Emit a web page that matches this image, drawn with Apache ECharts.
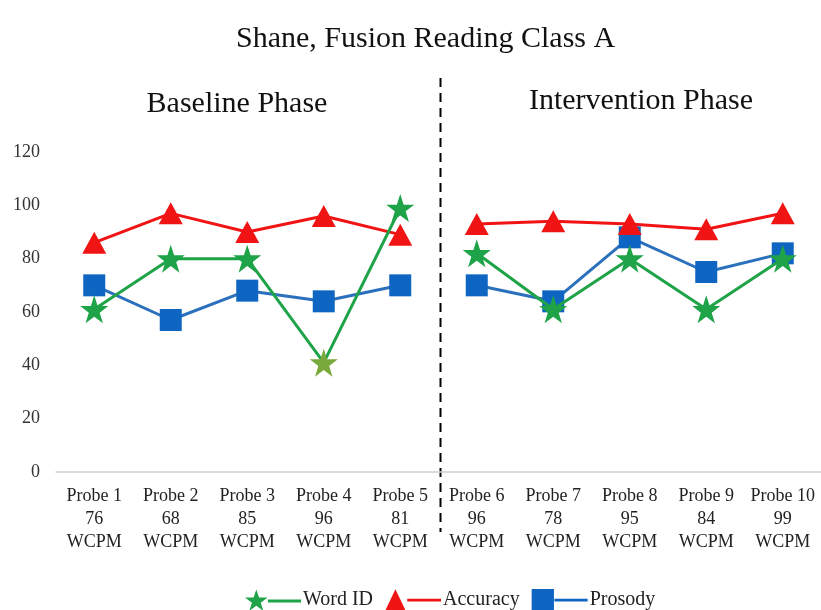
<!DOCTYPE html>
<html><head><meta charset="utf-8">
<script src="https://cdn.jsdelivr.net/npm/echarts@6/dist/echarts.min.js"></script>
<style>html,body{margin:0;padding:0;background:#fff}#c{width:821px;height:610px}</style>
</head><body><div id="c"></div>
<script>
const categories = ['Probe 1\n76\nWCPM','Probe 2\n68\nWCPM','Probe 3\n85\nWCPM','Probe 4\n96\nWCPM','Probe 5\n81\nWCPM','Probe 6\n96\nWCPM','Probe 7\n78\nWCPM','Probe 8\n95\nWCPM','Probe 9\n84\nWCPM','Probe 10\n99\nWCPM'];
const wordId = [61, 80, 80, 41, 99, 82, 61, 80, 61, 80];
const accuracy = [86, 97, 90, 96, 89, 93, 94, 93, 91, 97];
const prosody = [70, 57, 68, 64, 70, 70, 64, 88, 75, 82];
const yTicks = [0, 20, 40, 60, 80, 100, 120];
const phases = ['Baseline Phase', 'Intervention Phase'];
const baselineCount = 5;
const FONT = '"Liberation Serif", "DejaVu Serif", serif';

const STAR = 'M50,0 L61.8,35.3 L98.9,35.3 L69,57.4 L80.4,92.7 L50,71 L19.6,92.7 L31,57.4 L1.1,35.3 L38.2,35.3 Z';
const TRI = 'M50,4 L94,96 L6,96 Z';
const SQ = 'M2,2 L98,2 L98,98 L2,98 Z';
const BAR = ' M100,44 L243,44 L243,56 L100,56 Z';

function split(arr, phase) {
  return arr.map((v, i) => ((i < baselineCount) === (phase === 0)) ? v : '-');
}

const defs = [
  { name: 'Word ID', data: wordId, symbol: 'path://' + STAR, size: 28, color: '#1ea348', line: '#1ea348', icon: STAR, z: 4 },
  { name: 'Accuracy', data: accuracy, symbol: 'triangle', size: [24, 22], color: '#f01414', line: '#f01414', icon: TRI, z: 3 },
  { name: 'Prosody', data: prosody, symbol: 'rect', size: 22, color: '#0f66c2', line: '#2a70bd', icon: SQ, z: 2 }
];

const series = [];
defs.forEach(d => {
  [0, 1].forEach(p => {
    const vals = split(d.data, p).map((v, i) =>
      (d.name === 'Word ID' && i === 3 && v !== '-') ? { value: v, itemStyle: { color: '#79a83c' } } : v);
    series.push({
      name: d.name, type: 'line', data: vals, symbol: d.symbol, symbolSize: d.size,
      color: d.color, itemStyle: { color: d.color }, lineStyle: { width: 3, color: d.line }, z: d.z,
      connectNulls: false
    });
  });
});

const chart = echarts.init(document.getElementById('c'));
chart.setOption({
  animation: false,
  backgroundColor: '#fff',
  title: { text: 'Shane, Fusion Reading Class A', left: 231, top: 19,
    textStyle: { fontFamily: FONT, fontSize: 30, fontWeight: 'normal', color: '#111' } },
  grid: { left: 56, right: 0, top: 152, bottom: 138 },
  xAxis: {
    type: 'category', data: categories, boundaryGap: true,
    axisLine: { lineStyle: { color: '#d0d0d0', width: 1.5 } },
    axisTick: { show: false },
    axisLabel: { interval: 0, margin: 13, fontFamily: FONT, fontSize: 18, lineHeight: 23, color: '#222' }
  },
  yAxis: {
    type: 'value', min: yTicks[0], max: yTicks[yTicks.length - 1], interval: 20,
    axisLine: { show: false }, axisTick: { show: false }, splitLine: { show: false },
    axisLabel: { margin: 16, fontFamily: FONT, fontSize: 18, color: '#333' }
  },
  legend: {
    top: 584, left: 240, itemWidth: 56, itemHeight: 23, itemGap: 12,
    textStyle: { fontFamily: FONT, fontSize: 20, color: '#222', padding: [0, 0, 0, -3] },
    data: defs.map(d => ({ name: d.name, icon: 'path://' + d.icon + BAR }))
  },
  series: series
});

const x5 = chart.convertToPixel({ xAxisIndex: 0 }, categories[baselineCount - 1]);
const x6 = chart.convertToPixel({ xAxisIndex: 0 }, categories[baselineCount]);
const xDiv = (x5 + x6) / 2 + 2;
chart.setOption({
  graphic: [
    { type: 'line', shape: { x1: xDiv, y1: 78, x2: xDiv, y2: 532 },
      style: { stroke: '#000', lineWidth: 2, lineDash: [9, 6] } },
    { type: 'text', x: 237, y: 104, style: { text: phases[0], fontFamily: FONT, fontSize: 30, fill: '#111', align: 'center', verticalAlign: 'middle' } },
    { type: 'text', x: 641, y: 101, style: { text: phases[1], fontFamily: FONT, fontSize: 30, fill: '#111', align: 'center', verticalAlign: 'middle' } }
  ]
});
</script></body></html>
